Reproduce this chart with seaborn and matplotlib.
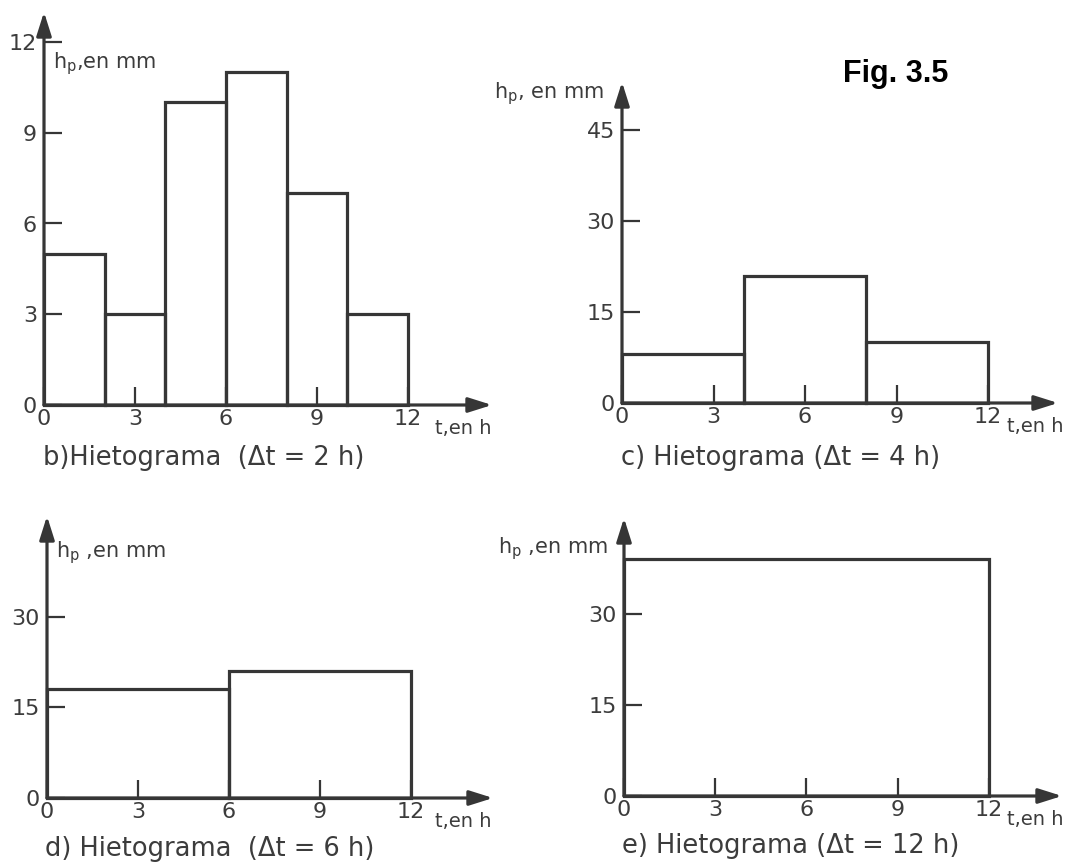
import numpy as np
import pandas as pd
import matplotlib
matplotlib.use('Agg')
import matplotlib.pyplot as plt
import seaborn as sns

# hietogramas: precipitacion (mm) por intervalo de duracion dt (h)
dt_b = 2
hp_b = [5, 3, 10, 11, 7, 3]
dt_c = 4
hp_c = [8, 21, 10]
dt_d = 6
hp_d = [18, 21]
dt_e = 12
hp_e = [39]

yticks_b = [0, 3, 6, 9, 12]
yticks_c = [0, 15, 30, 45]
yticks_d = [0, 15, 30]
yticks_e = [0, 15, 30]
xticks = [0, 3, 6, 9, 12]

captions = ['b)Hietograma  (Δt = 2 h)', 'c) Hietograma (Δt = 4 h)',
            'd) Hietograma  (Δt = 6 h)', 'e) Hietograma (Δt = 12 h)']

sns.set_style('white')
plt.rcParams['font.family'] = ['DejaVu Sans']
plt.rcParams['mathtext.fontset'] = 'dejavusans'

INK = '#363636'
TXT = '#3c3c3c'
W, H = 1065, 863
fig = plt.figure(figsize=(W / 100, H / 100), dpi=100)
fig.patch.set_facecolor('white')


def panel(ox, oy, sx, sy, xtip, ytip, dt, hp, yt, tdx):
    ax = fig.add_axes([ox / W, (H - oy) / H, (xtip - ox) / W, (oy - ytip) / H])
    edges = [float(e) for e in np.arange(0, 12 + dt, dt)]
    df = pd.DataFrame({'t': [e + dt / 2 for e in edges[:-1]], 'hp': hp})
    sns.histplot(data=df, x='t', weights='hp', bins=edges, fill=False,
                 color=INK, linewidth=2.3, ax=ax, clip_on=False)
    ax.set_xlim(0, (xtip - ox) / sx)
    ax.set_ylim(0, (oy - ytip) / sy)
    ax.set_xlabel('')
    ax.set_ylabel('')
    for s in ax.spines.values():
        s.set_visible(False)
    ax.set_xticks(xticks)
    ax.set_yticks(yt)
    ax.tick_params(bottom=True, left=True, direction='in', length=13, width=1.6,
                   color=INK, labelsize=16, labelcolor=TXT)
    ax.tick_params(axis='x', pad=3)
    ax.tick_params(axis='y', pad=5)
    arrow = dict(arrowstyle='-|>,head_length=0.95,head_width=0.3',
                 mutation_scale=15, color=INK, lw=2.3, shrinkA=0, shrinkB=0)
    ax.annotate('', xy=(1, 0), xytext=(0, 0), xycoords='axes fraction',
                arrowprops=arrow, annotation_clip=False)
    ax.annotate('', xy=(0, 1), xytext=(0, 0), xycoords='axes fraction',
                arrowprops=arrow, annotation_clip=False)
    ax.annotate('t,en h', xy=(12, 0), xytext=(tdx * 0.72, -21), textcoords='offset points',
                ha='left', va='baseline', fontsize=14, color=TXT)
    return ax


panel(44, 405, 30.33, 30.25, 492, 12, dt_b, hp_b, yticks_b, 27)
panel(622, 403, 30.5, 6.067, 1058, 82, dt_c, hp_c, yticks_c, 19)
panel(47, 798, 30.3, 6.04, 493, 516, dt_d, hp_d, yticks_d, 24)
panel(624, 796, 30.4, 6.07, 1062, 518, dt_e, hp_e, yticks_e, 18)

fig.text(53 / W, 1 - 68 / H, r'h$_{\rm p}$,en mm', ha='left', va='baseline', fontsize=15, color=TXT)
fig.text(604 / W, 1 - 98 / H, r'h$_{\rm p}$, en mm', ha='right', va='baseline', fontsize=15, color=TXT)
fig.text(56 / W, 1 - 557 / H, r'h$_{\rm p}$ ,en mm', ha='left', va='baseline', fontsize=15, color=TXT)
fig.text(608 / W, 1 - 553 / H, r'h$_{\rm p}$ ,en mm', ha='right', va='baseline', fontsize=15, color=TXT)

fig.text(43 / W, 1 - 465 / H, captions[0], ha='left', va='baseline', fontsize=18.5, color=TXT)
fig.text(621 / W, 1 - 465 / H, captions[1], ha='left', va='baseline', fontsize=18.5, color=TXT)
fig.text(45 / W, 1 - 856 / H, captions[2], ha='left', va='baseline', fontsize=18.5, color=TXT)
fig.text(622 / W, 1 - 853 / H, captions[3], ha='left', va='baseline', fontsize=18.5, color=TXT)

fig.text(843 / W, 1 - 82 / H, 'Fig. 3.5', ha='left', va='baseline', fontsize=22,
         fontweight='bold', family='Liberation Sans', color='black')

fig.savefig('out.png', dpi=100)
